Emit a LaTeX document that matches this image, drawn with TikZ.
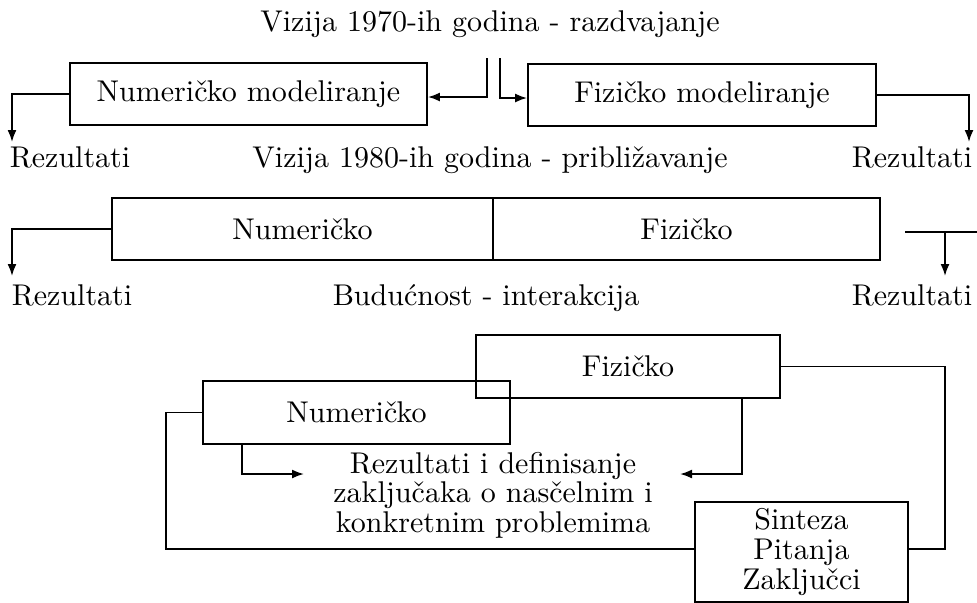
\documentclass[tikz,border=0pt]{standalone}
\usepackage{fontspec}
\setmainfont{lmroman10-regular}[Extension=.otf]
\usetikzlibrary{arrows.meta}
\begin{document}
\begin{tikzpicture}[x=0.5pt,y=-0.5pt,
  every node/.style={font=\fontsize{15}{14.8}\selectfont},
  box/.style={draw,line width=0.9pt,inner sep=0pt},
  txt/.style={inner sep=0pt,anchor=base},
  conn/.style={line width=0.9pt},
  arr/.style={line width=0.9pt,-{Latex[length=6pt,width=4.5pt]}}]
\useasboundingbox (0,0) rectangle (977,602);
% ---------- row 1
\node[txt] (t1) at (490,31) {Vizija 1970-ih godina - razdvajanje};
\node[box,minimum width=178.5pt,minimum height=31pt] (n1) at (248.5,94) {Numeričko modeliranje};
\node[box,minimum width=174pt,minimum height=31pt] (f1) at (702,95) {Fizičko modeliranje};
\coordinate (sa) at (487,58);
\coordinate (sb) at (500,58);
\draw[arr] (sa) |- ([yshift=-1.5pt]n1.east);
\draw[arr] (sb) |- ([yshift=-1.5pt]f1.west);
\coordinate (r1a) at (12,142);
\coordinate (r1b) at (969,142);
\draw[arr] (n1.west) -| (r1a);
\draw[arr] (f1.east) -| (r1b);
\node[txt] (rz1) at (70,167) {Rezultati};
\node[txt] (rz2) at (912,167) {Rezultati};
\node[txt] (t2) at (490,167) {Vizija 1980-ih godina - približavanje};
% ---------- row 2
\node[box,minimum width=190.5pt,minimum height=31pt] (n2) at (302.5,229) {Numeričko};
\node[box,minimum width=193.5pt,minimum height=31pt] (f2) at (686.5,229) {Fizičko};
\coordinate (r2a) at (12,276);
\draw[arr] (n2.west) -| (r2a);
\coordinate (h1) at (905,232);
\coordinate (h2) at (977,232);
\coordinate (h3) at (945,232);
\coordinate (r2b) at (945,276);
\draw[conn] (h1) -- (h2);
\draw[arr] (h3) -- (r2b);
\node[txt] (rz3) at (72,305) {Rezultati};
\node[txt] (rz4) at (912,305) {Rezultati};
\node[txt] (t3) at (486,305) {Budućnost - interakcija};
% ---------- row 3
\node[box,minimum width=152pt,minimum height=31.5pt] (f3) at (628,366.5) {Fizičko};
\node[box,minimum width=153.5pt,minimum height=31.5pt] (n3) at (356.5,412.5) {Numeričko};
\node[box,minimum width=106.5pt,minimum height=50pt,align=center] (s3) at (801.5,552) {Sinteza\\Pitanja\\Zaključci};
\node[inner sep=0pt,align=center] (ct) at (493,495) {Rezultati i definisanje\\zaključaka o nasčelnim i\\konkretnim problemima};
\coordinate (c1) at (166,549);
\coordinate (c2) at (945,549);
\draw[conn] (n3.west) -| (c1) -- (c1 -| s3.west);
\draw[conn] (f3.east) -| (c2) -- (c2 -| s3.east);
\coordinate (e1) at (304,474);
\coordinate (e2) at (680,474);
\draw[arr] ([xshift=20pt]n3.south west) |- (e1);
\draw[arr] ([xshift=-19.5pt]f3.south east) |- (e2);
\end{tikzpicture}
\end{document}
